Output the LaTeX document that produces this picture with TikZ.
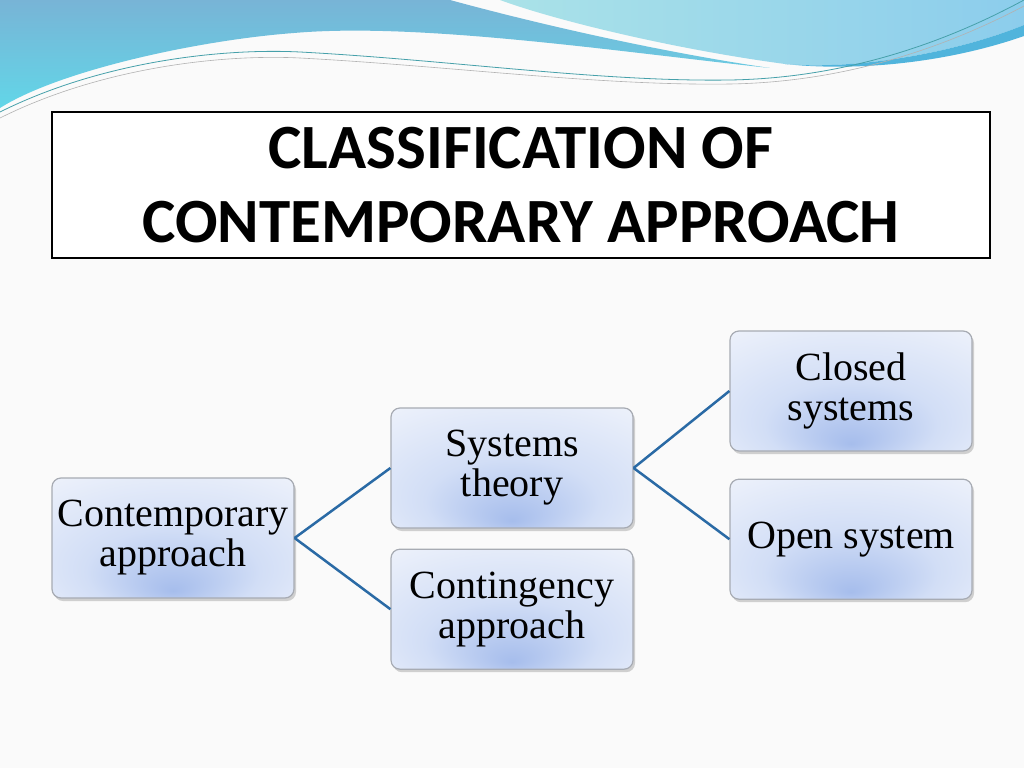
\documentclass[tikz,border=0pt]{standalone}
\usepackage{fontspec}
\setmainfont{Liberation Serif}
\newfontfamily\titlefont{Carlito}
\usetikzlibrary{positioning,shadows}
\definecolor{linkblue}{HTML}{2A6AA5}
\definecolor{boxedge}{HTML}{A7ABB3}
\definecolor{boxin}{HTML}{A6BDEC}
\definecolor{boxmid}{HTML}{D2DEF6}
\definecolor{boxout}{HTML}{EEF2FB}
\definecolor{wavetop}{RGB}{120,180,214}
\definecolor{wavebot}{RGB}{98,214,232}
\definecolor{waveleft}{RGB}{170,226,232}
\definecolor{waveright}{RGB}{140,205,236}
\definecolor{wavestripe}{RGB}{80,180,220}
\definecolor{waveline}{RGB}{70,160,170}
\pgfdeclareradialshading{boxshade}{\pgfpoint{0bp}{-22bp}}{color(0bp)=(boxin); color(18bp)=(boxmid); color(40bp)=(boxout); color(50bp)=(boxout)}

\begin{document}
\begin{tikzpicture}[x=1pt,y=-1pt,
    box/.style={draw=boxedge, line width=1.2pt, rounded corners=9pt, minimum width=242pt, minimum height=120pt,
      align=center, font=\fontsize{40}{40}\selectfont, shading=boxshade,
      drop shadow={opacity=.35, shadow xshift=2pt, shadow yshift=-3pt}},
    link/.style={draw=linkblue, line width=2.5pt}]
  \useasboundingbox (0,0) rectangle (1024,768);
  \fill[black!2] (0,0) rectangle (1024,768);
  % waves at the top
  \shade[top color=wavetop, bottom color=wavebot]
    (0,0) -- (450,0) .. controls (560,30) and (680,55) .. (770,68)
    .. controls (620,52) and (420,22) .. (294,33) .. controls (200,40) and (60,70) .. (0,108) -- cycle;
  \shade[left color=waveleft, right color=waveright]
    (500,0) -- (1024,0) -- (1024,25) .. controls (950,55) and (850,70) .. (785,64)
    .. controls (680,50) and (560,22) .. (500,0) -- cycle;
  \fill[wavestripe] (785,64) .. controls (850,70) and (950,55) .. (1024,25)
    -- (1024,36) .. controls (950,62) and (860,72) .. (785,64) -- cycle;
  \draw[waveline, line width=.8pt]
    (0,112) .. controls (100,62) and (220,48) .. (300,52) .. controls (450,60) and (600,82) .. (730,80)
    .. controls (850,78) and (950,40) .. (1024,0);
  \draw[gray!60, line width=.6pt]
    (0,118) .. controls (100,68) and (220,54) .. (300,58) .. controls (450,66) and (600,86) .. (730,84)
    .. controls (850,82) and (950,45) .. (1024,6);

  \node[draw, fill=white, line width=2.5pt, minimum width=938pt, minimum height=146pt, inner sep=0pt,
    align=center, font=\titlefont\bfseries\fontsize{63}{74}\selectfont] (title) at (521,185)
    {CLASSIFICATION OF\\CONTEMPORARY APPROACH};

  \node[box] (contemp) at (173,538) {Contemporary\\approach};
  \node[box] (systems) at (512,468) {Systems\\theory};
  \node[box, below=20pt of systems] (conting) {Contingency\\approach};
  \node[box] (closed) at (851,391) {Closed\\systems};
  \node[box, below=27pt of closed] (open) {Open system};

  \draw[link] (contemp.east) -- (systems.west);
  \draw[link] (contemp.east) -- (conting.west);
  \draw[link] (systems.east) -- (closed.west);
  \draw[link] (systems.east) -- (open.west);
\end{tikzpicture}
\end{document}
